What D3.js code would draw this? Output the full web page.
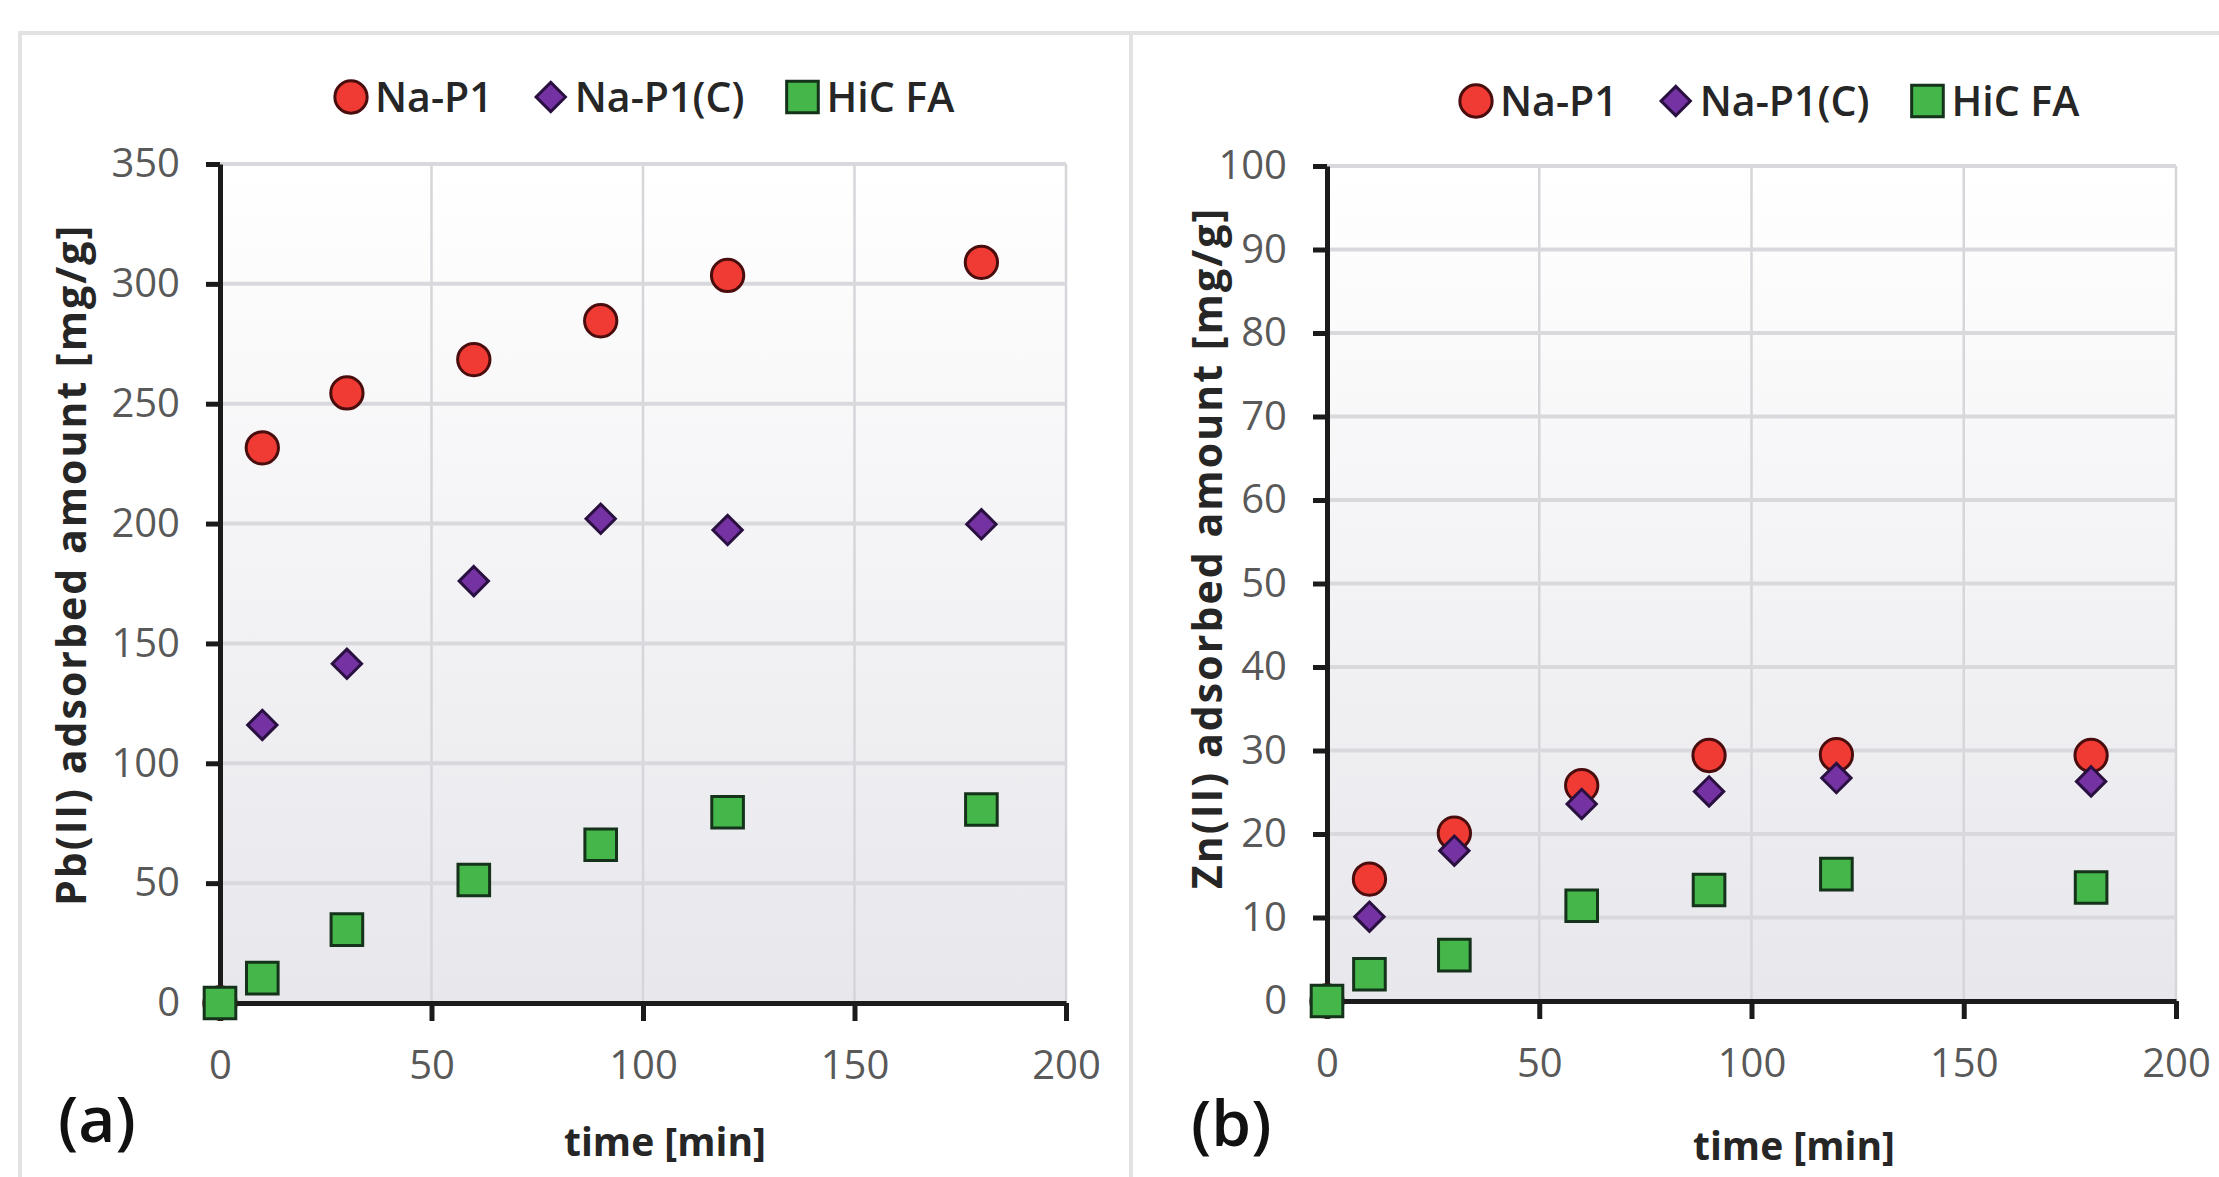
<!DOCTYPE html>
<html>
<head>
<meta charset="utf-8">
<script src="https://cdn.jsdelivr.net/npm/d3@7"></script>
<style>
  body { margin: 0; background: #fff; }
  svg { display: block; font-family: "Open Sans", "Noto Sans", sans-serif; }
</style>
</head>
<body>
<svg></svg>
<script>
var width = 2219, height = 1177;

// data
var times = [0, 10, 30, 60, 90, 120, 180];
var seriesNames = ["Na-P1", "Na-P1(C)", "HiC FA"];
var pbNaP1  = [0, 231.6, 254.5, 268.4, 284.6, 303.5, 309];
var pbNaP1C = [0, 116, 141.5, 176, 202, 197.3, 199.7];
var pbHiC   = [0, 10.4, 30.6, 51.3, 66, 79.6, 80.7];
var znNaP1  = [0, 14.6, 20.1, 25.8, 29.4, 29.5, 29.4];
var znNaP1C = [0, 10.1, 18.0, 23.6, 25.1, 26.7, 26.3];
var znHiC   = [0, 3.2, 5.5, 11.4, 13.3, 15.2, 13.6];
var xTicks  = [0, 50, 100, 150, 200];
var pbTicks = [0, 50, 100, 150, 200, 250, 300, 350];
var znTicks = [0, 10, 20, 30, 40, 50, 60, 70, 80, 90, 100];

// 正方形を45度回した菱形
var squareDiamond = {
    draw: function(ctx, size) {
        var r = Math.sqrt(size / 2);
        ctx.moveTo(0, -r);
        ctx.lineTo(r, 0);
        ctx.lineTo(0, r);
        ctx.lineTo(-r, 0);
        ctx.closePath();
    }
};

var fills   = ["#ef3b33", "#7432a3", "#45b649"];
var strokes = ["#4a0d0d", "#2a1040", "#15321a"];
var shapes  = [d3.symbolCircle, squareDiamond, d3.symbolSquare];
var sizes   = [820, 430, 1000];

var svg = d3.select("svg").attr("width", width).attr("height", height);

var grad = svg.append("defs").append("linearGradient")
    .attr("id", "plotbg").attr("x1", 0).attr("y1", 0).attr("x2", 0).attr("y2", 1);
grad.append("stop").attr("offset", "0%").attr("stop-color", "#ffffff");
grad.append("stop").attr("offset", "100%").attr("stop-color", "#e7e7ec");

// panel frames
svg.append("rect").attr("x", 20).attr("y", 33).attr("width", 1111).attr("height", 1160)
    .attr("fill", "none").attr("stroke", "#e2e2e2").attr("stroke-width", 4);
svg.append("rect").attr("x", 1131).attr("y", 33).attr("width", 1100).attr("height", 1160)
    .attr("fill", "none").attr("stroke", "#e2e2e2").attr("stroke-width", 4);

function symbolPath(i) {
    return d3.symbol().type(shapes[i]).size(sizes[i])();
}

/* 1枚のパネルを描く */
function drawPanel(p) {
    var g = svg.append("g");
    var xScale = d3.scaleLinear().domain([0, 200]).range([p.left, p.right]);
    var yScale = d3.scaleLinear().domain([0, p.ymax]).range([p.bottom, p.top]);

    g.append("rect")
        .attr("x", p.left).attr("y", p.top)
        .attr("width", p.right - p.left).attr("height", p.bottom - p.top)
        .attr("fill", "url(#plotbg)");

    // grid
    g.append("g").selectAll("line").data(xTicks.slice(1)).enter().append("line")
        .attr("x1", d => xScale(d)).attr("x2", d => xScale(d))
        .attr("y1", p.top).attr("y2", p.bottom)
        .attr("stroke", "#d6d6da").attr("stroke-width", 2.5);
    g.append("g").selectAll("line").data(p.yTicks.slice(1)).enter().append("line")
        .attr("x1", p.left).attr("x2", p.right)
        .attr("y1", d => yScale(d)).attr("y2", d => yScale(d))
        .attr("stroke", "#d9d9dd").attr("stroke-width", 4);

    // axes
    var ax = g.append("g")
        .attr("transform", "translate(0," + p.bottom + ")")
        .call(d3.axisBottom(xScale).tickValues(xTicks).tickSize(18).tickPadding(30).tickSizeOuter(0));
    var ay = g.append("g")
        .attr("transform", "translate(" + p.left + ",0)")
        .call(d3.axisLeft(yScale).tickValues(p.yTicks).tickSize(14).tickPadding(26).tickSizeOuter(0));
    [ax, ay].forEach(function(a) {
        a.select(".domain").attr("stroke", "#1b1b1b").attr("stroke-width", 5);
        a.selectAll(".tick line").attr("stroke", "#1b1b1b").attr("stroke-width", 5);
        a.selectAll(".tick text").attr("fill", "#595959")
            .style("font-size", "40px").style("font-family", "'Open Sans', sans-serif");
    });

    // markers
    p.series.forEach(function(vals, i) {
        g.append("g").selectAll("path").data(vals).enter().append("path")
            .attr("transform", (d, j) => "translate(" + xScale(times[j]) + "," + yScale(d) + ")")
            .attr("d", symbolPath(i))
            .attr("fill", fills[i]).attr("stroke", strokes[i]).attr("stroke-width", 3);
    });

    // legend
    var lx = p.legendX;
    seriesNames.forEach(function(name, i) {
        g.append("path")
            .attr("transform", "translate(" + (lx + 16) + "," + p.legendY + ")")
            .attr("d", symbolPath(i))
            .attr("fill", fills[i]).attr("stroke", strokes[i]).attr("stroke-width", 3);
        var t = g.append("text")
            .attr("x", lx + 40).attr("y", p.legendY).attr("dy", "0.36em")
            .attr("fill", "#262626").style("font-size", "41px").style("font-weight", 600)
            .text(name);
        lx = lx + 40 + t.node().getComputedTextLength() + 42;
    });

    // axis titles
    g.append("text")
        .attr("transform", "translate(" + p.yTitleX + "," + p.yTitleY + ") rotate(-90)")
        .attr("text-anchor", "middle").attr("dy", "0.35em")
        .attr("textLength", 680).attr("lengthAdjust", "spacing")
        .attr("fill", "#262626").style("font-size", "41px").style("font-weight", 700)
        .text(p.yTitle);
    g.append("text")
        .attr("x", p.xTitleX).attr("y", p.xTitleY)
        .attr("text-anchor", "middle")
        .attr("fill", "#262626").style("font-size", "39px").style("font-weight", 700)
        .text("time [min]");

    g.append("text")
        .attr("x", p.labelX).attr("y", p.labelY)
        .attr("fill", "#111").style("font-size", "64px").style("font-weight", 600)
        .text(p.label);
}

drawPanel({
    left: 220, right: 1066, top: 164, bottom: 1003, ymax: 350,
    yTicks: pbTicks, series: [pbNaP1, pbNaP1C, pbHiC],
    legendX: 335, legendY: 97,
    yTitle: "Pb(II) adsorbed amount [mg/g]", yTitleX: 72, yTitleY: 566,
    xTitleX: 665, xTitleY: 1156,
    label: "(a)", labelX: 58, labelY: 1142
});

drawPanel({
    left: 1327, right: 2176, top: 166, bottom: 1001, ymax: 100,
    yTicks: znTicks, series: [znNaP1, znNaP1C, znHiC],
    legendX: 1460, legendY: 101,
    yTitle: "Zn(II) adsorbed amount [mg/g]", yTitleX: 1208, yTitleY: 549,
    xTitleX: 1794, xTitleY: 1160,
    label: "(b)", labelX: 1191, labelY: 1146
});
</script>
</body>
</html>
